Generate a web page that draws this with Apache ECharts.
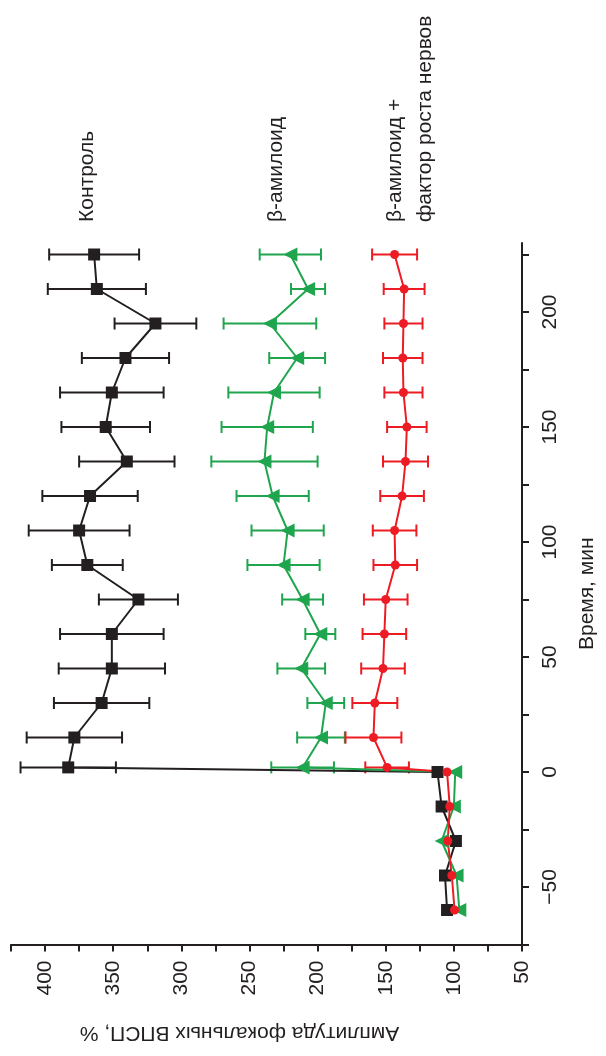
<!DOCTYPE html>
<html><head><meta charset="utf-8">
<script src="https://cdn.jsdelivr.net/npm/echarts@6/dist/echarts.min.js"></script>
<style>html,body{margin:0;padding:0;background:#fff}#c{width:606px;height:1056px}</style>
</head><body><div id="c"></div>
<script>
const times = [-60,-45,-30,-15,0,2,15,30,45,60,75,90,105,120,135,150,165,180,195,210,225];
const controlMean = [105,106.5,98.5,109,112,383,378.5,358.5,351,351,331.5,369,375,367,340,355.5,351,341,319,362,364];
const controlErr  = [0,0,0,0,0,35,35,35,39,38,29,26,37,35,35,32.5,38,32,30,36,33];
const amyloidMean = [96,98,109,100,99,211,197.5,194,212,198,211,225,222,233,239,237,232,215,235,207,220];
const amyloidErr  = [0,0,0,0,0,23,17.5,13.5,17.5,11,15,26.5,26.5,26.5,39,33.5,33.5,20.5,34,12.5,22.5];
const ngfMean = [99.5,101.5,104.5,103,105,149,159,158,152,151,150,143,143.5,138,135.5,134.5,137,137.5,137,136.5,143.5];
const ngfErr  = [0,0,0,0,0,16,20.5,16.5,16,16,16,16,16,16,16.5,14.5,14,14.5,14,15,16.5];
const ampTickLabels = [50,100,150,200,250,300,350,400];
const timeTickLabels = [-50,0,50,100,150,200];
const timeTicks = [-75,-50,-25,0,25,50,75,100,125,150,175,200,225];
const seriesNames = ['Контроль','β-амилоид','β-амилоид +\nфактор роста нервов'];

const FONT = 'Liberation Sans, Arial, sans-serif';
const INK = '#231f20', GREEN = '#1fa54d', RED = '#ed1c24';

function pairs(mean){ return mean.map((m,i)=>[m,times[i]]); }
function errData(mean, err){ return mean.map((m,i)=>[m,times[i],err[i]]); }
function errSeries(mean, err, color){
  return {
    type:'custom', z:2, silent:true,
    data: errData(mean, err),
    renderItem:function(params, api){
      const m = api.value(0), t = api.value(1), e = api.value(2);
      if (!e) return null;
      const p1 = api.coord([m-e, t]), p2 = api.coord([m+e, t]);
      const cap = 6;
      const st = {stroke:color, lineWidth:2};
      return {type:'group', children:[
        {type:'line', shape:{x1:p1[0],y1:p1[1],x2:p2[0],y2:p2[1]}, style:st},
        {type:'line', shape:{x1:p1[0],y1:p1[1]-cap,x2:p1[0],y2:p1[1]+cap}, style:st},
        {type:'line', shape:{x1:p2[0],y1:p2[1]-cap,x2:p2[0],y2:p2[1]+cap}, style:st}
      ]};
    }
  };
}
function lineSeries(name, mean, color, symbol, size, rot){
  return {type:'line', name:name, z:3, data:pairs(mean), symbol:symbol, symbolSize:size, symbolRotate:rot||0,
    showAllSymbol:true, lineStyle:{color:color,width:2}, itemStyle:{color:color}, animation:false};
}

const chart = echarts.init(document.getElementById('c'));
chart.setOption({
  animation:false,
  grid:{left:11, right:81, top:243, bottom:111.5},
  xAxis:{type:'value', inverse:true, min:50, max:425, interval:25, position:'bottom',
    name:'Амплитуда фокальных ВПСП, %', nameLocation:'middle', nameGap:78, nameRotate:180,
    nameTextStyle:{fontFamily:FONT, fontSize:21, color:INK, padding:[0,0,0,54]},
    axisLine:{onZero:false, lineStyle:{color:INK,width:2}}, splitLine:{show:false},
    axisTick:{length:7, lineStyle:{color:INK,width:2}},
    axisLabel:{rotate:90, margin:16, fontFamily:FONT, fontSize:21, color:INK, customValues:ampTickLabels}
  },
  yAxis:{type:'value', min:-75, max:230, interval:25, position:'right',
    name:'Время, мин', nameLocation:'middle', nameGap:55, nameRotate:90,
    nameTextStyle:{fontFamily:FONT, fontSize:21, color:INK},
    axisLine:{onZero:false, lineStyle:{color:INK,width:2}}, splitLine:{show:false},
    axisTick:{length:7, lineStyle:{color:INK,width:2}, customValues:timeTicks},
    axisLabel:{rotate:90, margin:18, fontFamily:FONT, fontSize:21, color:INK, customValues:timeTickLabels,
      formatter:function(v){ return v<0 ? '\u2212'+(-v) : String(v); }}
  },
  graphic:[
    {type:'text', x:87, y:222, rotation:Math.PI/2, style:{text:seriesNames[0], font:'21px '+FONT, fill:INK, align:'left', verticalAlign:'middle', textAlign:'left', textVerticalAlign:'middle'}},
    {type:'text', x:276, y:222, rotation:Math.PI/2, style:{text:seriesNames[1], font:'21px '+FONT, fill:INK, align:'left', verticalAlign:'middle', textAlign:'left', textVerticalAlign:'middle'}},
    {type:'text', x:410, y:222, rotation:Math.PI/2, style:{text:seriesNames[2], font:'21px '+FONT, lineHeight:30, fill:INK, align:'left', verticalAlign:'middle', textAlign:'left', textVerticalAlign:'middle'}}
  ],
  series:[
    errSeries(controlMean, controlErr, INK),
    errSeries(amyloidMean, amyloidErr, GREEN),
    errSeries(ngfMean, ngfErr, RED),
    lineSeries('Контроль', controlMean, INK, 'rect', 12),
    lineSeries('β-амилоид', amyloidMean, GREEN, 'triangle', 14, 90),
    lineSeries('β-амилоид + фактор роста нервов', ngfMean, RED, 'circle', 9)
  ]
});
</script></body></html>
